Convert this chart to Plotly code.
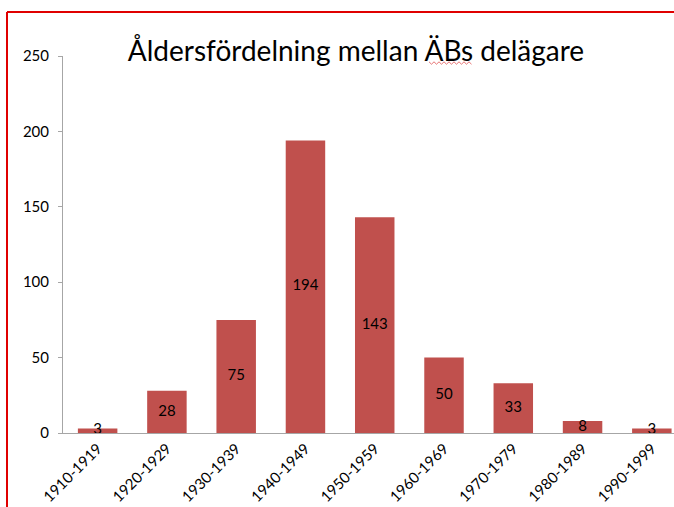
import plotly.graph_objects as go

categories = ["1910-1919", "1920-1929", "1930-1939", "1940-1949", "1950-1959",
              "1960-1969", "1970-1979", "1980-1989", "1990-1999"]
values = [3, 28, 75, 194, 143, 50, 33, 8, 3]
y_ticks = [0, 50, 100, 150, 200, 250]
title_text = "Åldersfördelning mellan ÄBs delägare"

W, H = 674, 507
L, R, T, B = 63, 0, 56, 74
FONT = "Lato, 'Open Sans', sans-serif"

fig = go.Figure()
fig.add_trace(go.Bar(
    x=list(range(len(categories))), y=values,
    marker=dict(color="#C0504D", line=dict(width=0)),
    width=0.57, hoverinfo="skip",
))
fig.add_trace(go.Scatter(
    x=list(range(len(categories))), y=[v / 2 for v in values],
    mode="text", text=[str(v) for v in values],
    textfont=dict(family=FONT, size=15, color="#000000"),
    textposition="middle center", hoverinfo="skip",
))

fig.update_layout(
    width=W, height=H,
    margin=dict(l=L, r=R, t=T, b=B, autoexpand=False),
    paper_bgcolor="white", plot_bgcolor="white",
    showlegend=False,
    xaxis=dict(
        range=[-0.5, 8.32], tickmode="array",
        tickvals=list(range(len(categories))), ticktext=categories,
        tickangle=-45, showgrid=False, zeroline=False,
        showline=True, linecolor="#A6A6A6", linewidth=1,
        ticks="", automargin=False,
        tickfont=dict(family=FONT, size=15, color="#000000"),
    ),
    yaxis=dict(
        range=[0, 250], tickvals=y_ticks, showgrid=False, zeroline=False,
        showline=True, linecolor="#A6A6A6", linewidth=1,
        ticks="outside", ticklen=4, tickcolor="#A6A6A6", automargin=False,
        tickfont=dict(family=FONT, size=15, color="#000000"),
        ticklabelstandoff=6,
    ),
    title=dict(
        text=title_text, x=356 / W, xanchor="center",
        y=1 - 51 / H, yanchor="middle", yref="container", xref="container",
        font=dict(family=FONT, size=28, color="#000000"),
    ),
)

pw = W - L - R
ph = H - T - B
def px(xp):
    return (xp - L) / pw
def py(yp):
    return (H - B - yp) / ph

# red screenshot border lines
fig.add_shape(type="line", xref="paper", yref="paper",
              x0=px(7), x1=px(674), y0=py(12), y1=py(12),
              line=dict(color="#E00000", width=2))
fig.add_shape(type="line", xref="paper", yref="paper",
              x0=px(7), x1=px(7), y0=py(12), y1=py(507),
              line=dict(color="#E00000", width=2))

# spell-check squiggle under "ÄBs"
pts = []
xs = 429
i = 0
while xs <= 472:
    pts.append((px(xs), py(63 + (1.2 if i % 2 else -1.2))))
    xs += 2.5
    i += 1
path = "M " + " L ".join(f"{a},{b}" for a, b in pts)
fig.add_shape(type="path", xref="paper", yref="paper", path=path,
              line=dict(color="#E05050", width=0.8))

fig.write_html("out.html", config={"displayModeBar": False},
               post_script="document.body.style.margin='0';")
